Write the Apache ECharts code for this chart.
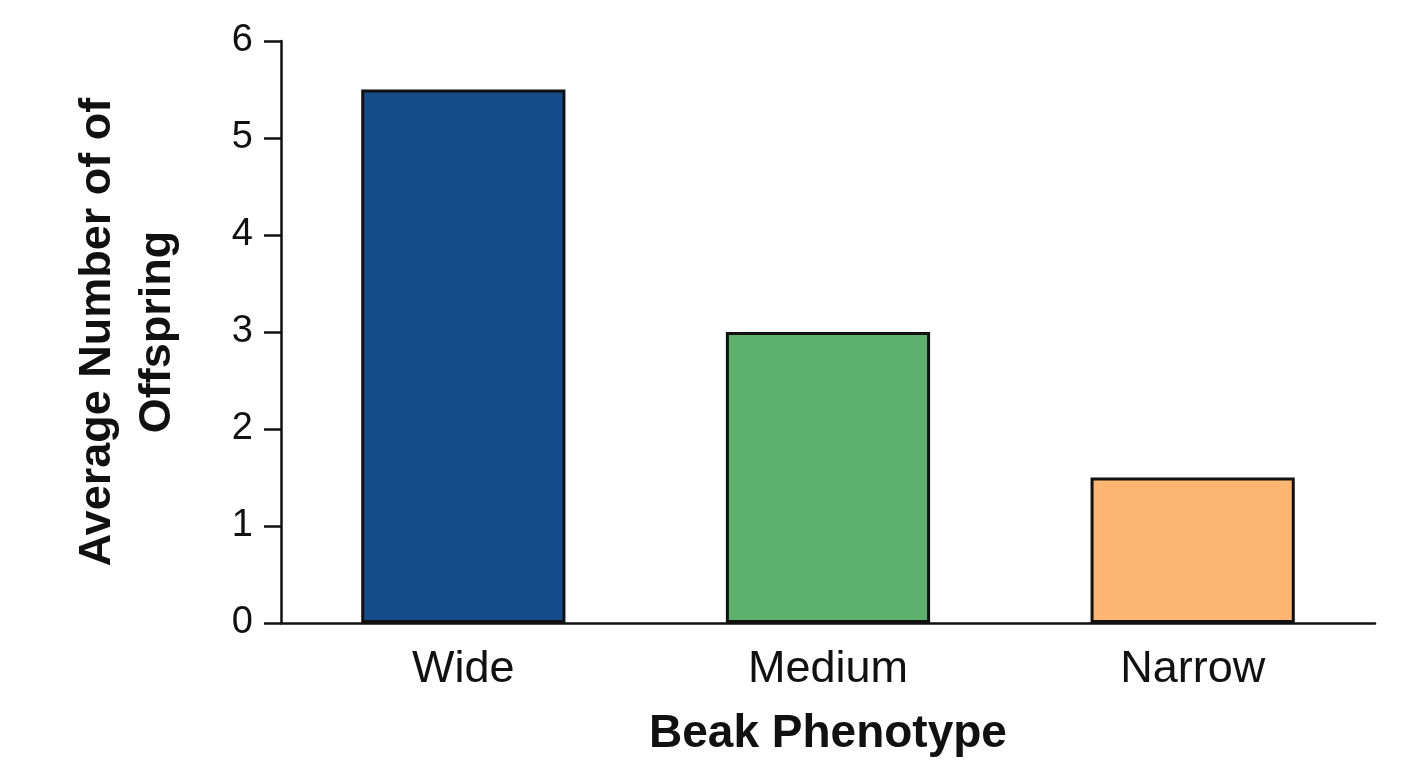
<!DOCTYPE html>
<html>
<head>
<meta charset="utf-8">
<title>Beak Phenotype</title>
<script src="https://cdn.jsdelivr.net/npm/echarts@6/dist/echarts.min.js"></script>
<style>
  html, body { margin: 0; padding: 0; background: #fff; }
  #chart { width: 1408px; height: 768px; }
</style>
</head>
<body>
<div id="chart"></div>
<script>
// 数据
const categories = ['Wide', 'Medium', 'Narrow'];
const offspring = [5.5, 3.0, 1.5];
const barColors = ['#154c8b', '#5db16d', '#fdb672'];

const FONT = '"Liberation Sans", Arial, sans-serif';

const c = echarts.init(document.getElementById('chart'), null, { renderer: 'canvas' });
c.setOption({
  animation: false,
  grid: { left: 281, right: 33, top: 41, bottom: 145 },
  xAxis: {
    type: 'category',
    data: categories,
    name: 'Beak Phenotype',
    nameLocation: 'middle',
    nameGap: 88,
    nameTextStyle: { color: '#111', fontSize: 46, fontWeight: 'bold', fontFamily: FONT },
    axisLine: { lineStyle: { color: '#111', width: 2.5 } },
    axisTick: { show: false },
    axisLabel: { color: '#111', fontSize: 45, fontFamily: FONT, margin: 24 },
  },
  yAxis: {
    type: 'value',
    min: 0, max: 6, interval: 1,
    name: 'Average Number of of\nOffspring',
    nameLocation: 'middle',
    nameGap: 93,
    nameTextStyle: { color: '#111', fontSize: 45, fontWeight: 'bold', fontFamily: FONT, lineHeight: 60 },
    axisLine: { show: true, lineStyle: { color: '#111', width: 2.5 } },
    axisTick: { show: true, length: 17, lineStyle: { color: '#111', width: 2.5 } },
    axisLabel: { color: '#111', fontSize: 38, fontFamily: FONT, margin: 28 },
    splitLine: { show: false },
  },
  series: [{
    type: 'bar',
    barWidth: '56%',
    data: offspring.map((v, i) => ({ value: v, itemStyle: { color: barColors[i] } })),
    itemStyle: { borderColor: '#111', borderWidth: 3 },
  }],
});
</script>
</body>
</html>
